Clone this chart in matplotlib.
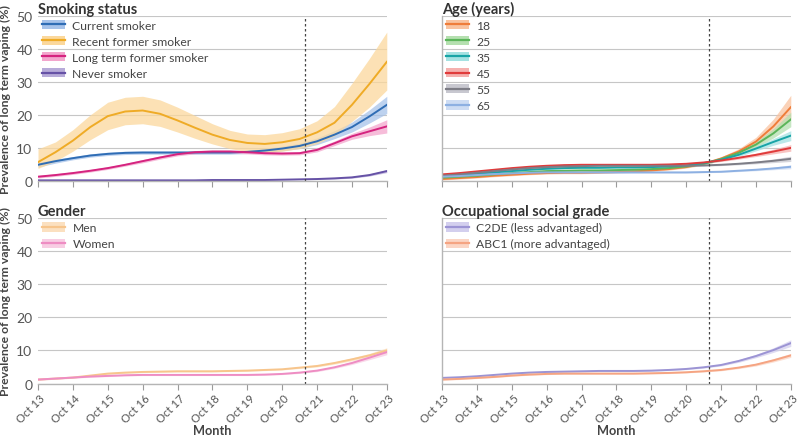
import numpy as np
import matplotlib
matplotlib.use("Agg")
import matplotlib.pyplot as plt
from matplotlib.patches import Patch
from matplotlib.lines import Line2D
from matplotlib.transforms import ScaledTranslation

plt.rcParams['font.family'] = ['Lato', 'DejaVu Sans']

# months since Oct 2013, sampled every 6 months
months = list(range(0, 121, 6))
tick_months = list(range(0, 121, 12))
tick_labels = ["Oct 13", "Oct 14", "Oct 15", "Oct 16", "Oct 17", "Oct 18",
               "Oct 19", "Oct 20", "Oct 21", "Oct 22", "Oct 23"]
event_month = 92  # June 2021

# ---- Smoking status ----
current_smoker = [4.9, 6.0, 6.9, 7.7, 8.2, 8.5, 8.6, 8.6, 8.6, 8.6, 8.6, 8.6,
                  8.8, 9.2, 9.8, 10.6, 12.0, 14.0, 16.3, 19.5, 23.0]
current_smoker_ci = [0.7, 0.6, 0.5, 0.5, 0.5, 0.5, 0.5, 0.5, 0.5, 0.5, 0.5, 0.5,
                     0.5, 0.6, 0.7, 0.8, 1.0, 1.2, 1.5, 2.0, 2.6]
recent_former = [5.7, 8.7, 12.2, 16.3, 19.6, 21.0, 21.3, 20.3, 18.3, 16.1, 14.0,
                 12.4, 11.5, 11.2, 11.7, 12.7, 14.7, 17.6, 23.0, 29.3, 36.0]
recent_former_lo = [3.8, 6.0, 9.0, 12.5, 15.5, 17.0, 17.3, 16.5, 14.8, 12.9, 11.2,
                    9.8, 8.9, 8.5, 9.0, 9.8, 11.3, 13.7, 18.0, 22.3, 27.5]
recent_former_hi = [9.7, 11.8, 15.5, 20.0, 23.8, 25.3, 25.6, 24.5, 22.3, 19.8, 17.3,
                    15.3, 14.2, 14.0, 14.6, 15.8, 18.2, 22.5, 29.5, 37.0, 45.0]
long_term_former = [1.3, 1.8, 2.4, 3.1, 3.9, 4.9, 6.0, 7.1, 8.1, 8.7, 8.9, 8.9,
                    8.7, 8.4, 8.3, 8.4, 9.4, 11.4, 13.5, 15.0, 16.5]
long_term_former_ci = [0.4, 0.4, 0.4, 0.4, 0.4, 0.4, 0.5, 0.5, 0.5, 0.5, 0.5, 0.5,
                       0.5, 0.5, 0.5, 0.5, 0.6, 0.7, 0.9, 1.3, 2.0]
never_smoker = [0.2, 0.2, 0.2, 0.2, 0.2, 0.2, 0.2, 0.2, 0.2, 0.2, 0.3, 0.3,
                0.3, 0.3, 0.4, 0.5, 0.6, 0.8, 1.1, 1.8, 3.0]
never_smoker_ci = [0.1, 0.1, 0.1, 0.1, 0.1, 0.1, 0.1, 0.1, 0.1, 0.1, 0.1, 0.1,
                   0.1, 0.1, 0.1, 0.1, 0.15, 0.2, 0.25, 0.3, 0.45]

# ---- Age ----
age_18 = [0.6, 0.9, 1.2, 1.6, 1.9, 2.2, 2.4, 2.5, 2.5, 2.6, 2.7, 2.9,
          3.2, 3.6, 4.2, 5.2, 6.8, 8.9, 11.9, 16.5, 22.3]
age_18_ci = [0.3, 0.3, 0.3, 0.3, 0.3, 0.3, 0.3, 0.3, 0.3, 0.3, 0.3, 0.3,
             0.3, 0.3, 0.3, 0.4, 0.5, 0.8, 1.3, 2.2, 3.6]
age_25 = [1.0, 1.3, 1.6, 2.0, 2.4, 2.7, 3.0, 3.1, 3.2, 3.2, 3.3, 3.4,
          3.6, 3.9, 4.4, 5.2, 6.6, 8.5, 11.0, 14.4, 18.6]
age_25_ci = [0.25, 0.25, 0.25, 0.25, 0.25, 0.25, 0.25, 0.25, 0.25, 0.25, 0.25, 0.25,
             0.25, 0.25, 0.3, 0.3, 0.4, 0.6, 0.9, 1.4, 2.2]
age_35 = [1.5, 1.8, 2.2, 2.6, 3.0, 3.4, 3.7, 3.9, 4.0, 4.0, 4.1, 4.1,
          4.2, 4.4, 4.7, 5.4, 6.4, 7.9, 9.8, 11.8, 13.7]
age_35_ci = [0.25, 0.25, 0.25, 0.25, 0.25, 0.25, 0.25, 0.25, 0.25, 0.25, 0.25, 0.25,
             0.25, 0.25, 0.25, 0.3, 0.35, 0.5, 0.7, 1.0, 1.5]
age_45 = [2.0, 2.4, 2.9, 3.4, 3.9, 4.3, 4.6, 4.8, 4.9, 4.9, 4.9, 4.9,
          4.9, 5.0, 5.2, 5.6, 6.2, 7.0, 7.9, 8.9, 10.0]
age_45_ci = [0.25, 0.25, 0.25, 0.25, 0.25, 0.25, 0.25, 0.25, 0.25, 0.25, 0.25, 0.25,
             0.25, 0.25, 0.25, 0.3, 0.3, 0.4, 0.5, 0.7, 1.0]
age_55 = [1.6, 2.0, 2.5, 3.0, 3.5, 3.9, 4.2, 4.4, 4.5, 4.6, 4.6, 4.6,
          4.6, 4.6, 4.6, 4.7, 4.9, 5.2, 5.6, 6.1, 6.7]
age_55_ci = [0.2, 0.2, 0.2, 0.2, 0.2, 0.2, 0.2, 0.2, 0.2, 0.2, 0.2, 0.2,
             0.2, 0.2, 0.2, 0.2, 0.25, 0.3, 0.4, 0.55, 0.8]
age_65 = [1.3, 1.5, 1.8, 2.1, 2.3, 2.5, 2.6, 2.6, 2.6, 2.6, 2.6, 2.6,
          2.6, 2.6, 2.6, 2.7, 2.8, 3.1, 3.4, 3.8, 4.3]
age_65_ci = [0.2, 0.2, 0.2, 0.2, 0.2, 0.2, 0.2, 0.2, 0.2, 0.2, 0.2, 0.2,
             0.2, 0.2, 0.2, 0.2, 0.2, 0.25, 0.3, 0.4, 0.6]

# ---- Gender ----
men = [1.2, 1.5, 1.8, 2.4, 3.0, 3.3, 3.5, 3.6, 3.7, 3.7, 3.7, 3.8,
       3.9, 4.1, 4.3, 4.8, 5.3, 6.2, 7.3, 8.5, 10.0]
men_ci = [0.2, 0.2, 0.2, 0.2, 0.2, 0.2, 0.2, 0.2, 0.2, 0.2, 0.2, 0.2,
          0.2, 0.2, 0.2, 0.25, 0.3, 0.35, 0.45, 0.6, 0.8]
women = [1.2, 1.5, 1.8, 2.1, 2.3, 2.5, 2.6, 2.6, 2.6, 2.6, 2.6, 2.6,
         2.6, 2.7, 2.9, 3.3, 3.9, 4.9, 6.2, 7.8, 9.5]
women_ci = [0.2, 0.2, 0.2, 0.2, 0.2, 0.2, 0.2, 0.2, 0.2, 0.2, 0.2, 0.2,
            0.2, 0.2, 0.2, 0.25, 0.3, 0.35, 0.45, 0.6, 0.8]

# ---- Occupational social grade ----
c2de = [1.7, 1.9, 2.2, 2.6, 3.0, 3.3, 3.5, 3.6, 3.7, 3.8, 3.8, 3.8,
        3.9, 4.1, 4.4, 4.9, 5.6, 6.8, 8.3, 10.1, 12.2]
c2de_ci = [0.2, 0.2, 0.2, 0.2, 0.2, 0.2, 0.2, 0.2, 0.2, 0.2, 0.2, 0.2,
           0.2, 0.2, 0.2, 0.25, 0.3, 0.4, 0.5, 0.7, 1.0]
abc1 = [1.2, 1.4, 1.7, 2.0, 2.4, 2.7, 2.9, 3.0, 3.0, 3.0, 3.0, 3.0,
        3.1, 3.2, 3.4, 3.7, 4.1, 4.8, 5.7, 7.0, 8.5]
abc1_ci = [0.2, 0.2, 0.2, 0.2, 0.2, 0.2, 0.2, 0.2, 0.2, 0.2, 0.2, 0.2,
           0.2, 0.2, 0.2, 0.2, 0.25, 0.3, 0.4, 0.5, 0.6]


def sym(v, h):
    v = np.asarray(v); h = np.asarray(h)
    return v - h, v + h


panels = [
    ("Smoking status", [
        ("Current smoker", current_smoker, *sym(current_smoker, current_smoker_ci), "#2f6db5", "#a7c3ea"),
        ("Recent former smoker", recent_former, recent_former_lo, recent_former_hi, "#efab26", "#fbd89c"),
        ("Long term former smoker", long_term_former, *sym(long_term_former, long_term_former_ci), "#d5237f", "#f3a6cd"),
        ("Never smoker", never_smoker, *sym(never_smoker, never_smoker_ci), "#6652a6", "#b7abd9"),
    ]),
    ("Age (years)", [
        ("18", age_18, *sym(age_18, age_18_ci), "#ef7d3a", "#f9c3a0"),
        ("25", age_25, *sym(age_25, age_25_ci), "#5bb55a", "#b5e0b0"),
        ("35", age_35, *sym(age_35, age_35_ci), "#18a4a6", "#a5e2e2"),
        ("45", age_45, *sym(age_45, age_45_ci), "#e03b3b", "#f5b0ae"),
        ("55", age_55, *sym(age_55, age_55_ci), "#7d7d86", "#c8c8d0"),
        ("65", age_65, *sym(age_65, age_65_ci), "#8db0e2", "#cddcf3"),
    ]),
    ("Gender", [
        ("Men", men, *sym(men, men_ci), "#f7c58c", "#fbe0c0"),
        ("Women", women, *sym(women, women_ci), "#ee8dc3", "#f8cde3"),
    ]),
    ("Occupational social grade", [
        ("C2DE (less advantaged)", c2de, *sym(c2de, c2de_ci), "#9c94d4", "#d3cfee"),
        ("ABC1 (more advantaged)", abc1, *sym(abc1, abc1_ci), "#f5a482", "#fbd5c4"),
    ]),
]

fig = plt.figure(figsize=(8.0, 4.39), dpi=100)
positions = [
    [0.0475, 0.5854, 0.436, 0.377],
    [0.5525, 0.5854, 0.436, 0.377],
    [0.0475, 0.1241, 0.436, 0.377],
    [0.5525, 0.1241, 0.436, 0.377],
]
grid_c = "#c6c6c6"
text_c = "#555555"

for i, (title, series) in enumerate(panels):
    ax = fig.add_axes(positions[i])
    ax.set_xlim(0, 120)
    ax.set_ylim(0, 50)
    for sp in ["top", "right"]:
        ax.spines[sp].set_visible(False)
    ax.spines["bottom"].set_color("#b5b5b5")
    ax.spines["bottom"].set_linewidth(1.0)
    if i % 2 == 0:
        ax.spines["left"].set_visible(False)
    else:
        ax.spines["left"].set_color("#b5b5b5")
        ax.spines["left"].set_linewidth(1.0)
    ax.set_yticks([0, 10, 20, 30, 40, 50])
    ax.yaxis.grid(True, color=grid_c, linewidth=0.8)
    ax.set_axisbelow(True)
    ax.tick_params(axis="y", length=0, labelsize=10, labelcolor=text_c, pad=4)
    if i % 2 == 1:
        ax.tick_params(axis="y", labelleft=False)
    ax.set_xticks(tick_months)
    ax.tick_params(axis="x", length=4, width=0.8, color="#9a9a9a", direction="out",
                   labelsize=8.2, labelcolor=text_c, pad=2)
    if i >= 2:
        ax.set_xticklabels(tick_labels, rotation=45, ha="right", va="top",
                           rotation_mode="anchor")
        off = ScaledTranslation(1.5 / 100, 0, fig.dpi_scale_trans)
        for lab in ax.get_xticklabels():
            lab.set_transform(lab.get_transform() + off)
        pos = positions[i]
        fig.text(pos[0] + pos[2] / 2, 7.5 / 439, "Month", fontsize=9.2,
                 fontweight="bold", color="#444444", ha="center", va="center")
    else:
        ax.set_xticklabels([])
    if i % 2 == 0:
        ax.set_ylabel("Prevalence of long term vaping (%)", fontsize=8.8,
                      fontweight="bold", color="#444444", labelpad=4)
    ax.set_title(title, loc="left", fontsize=10.5, fontweight="bold", color="#333333", pad=2)

    handles = []
    for name, vals, lo, hi, lc, bc in series:
        ax.fill_between(months, lo, hi, color=bc, alpha=0.75, linewidth=0)
    for name, vals, lo, hi, lc, bc in series:
        ax.plot(months, vals, color=lc, linewidth=1.4)
        handles.append((Patch(facecolor=bc, edgecolor="none"),
                        Line2D([], [], color=lc, linewidth=1.6)))
    ax.axvline(event_month, color="#444444", linestyle=(0, (2, 2)), linewidth=0.9)
    ax.legend(handles, [s[0] for s in series], loc="upper left", frameon=False,
              fontsize=8.7, handlelength=1.9, handleheight=0.8, handletextpad=0.6,
              labelspacing=0.42, borderaxespad=0.2, borderpad=0.15, labelcolor="#444444")

fig.savefig("out.png", dpi=100)
